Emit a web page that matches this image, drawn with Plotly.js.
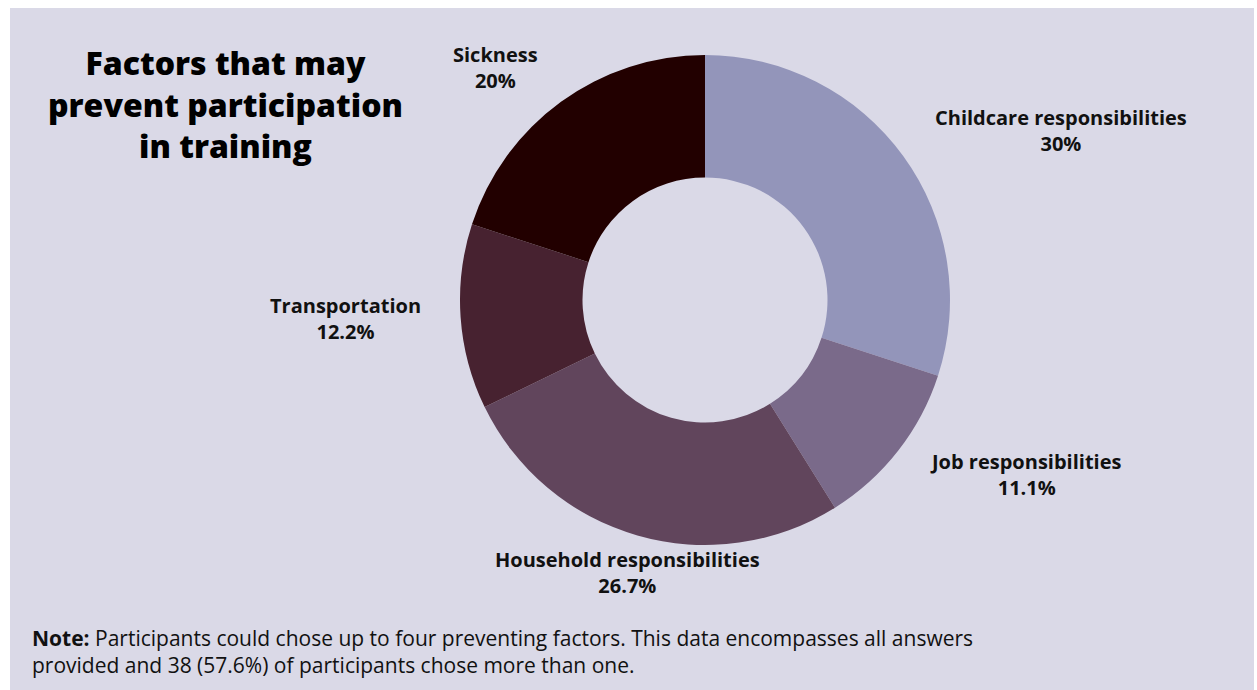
<!DOCTYPE html>
<html>
<head>
<meta charset="utf-8">
<script src="https://cdn.plot.ly/plotly-3.0.1.min.js"></script>
<style>
html,body{margin:0;padding:0;background:#ffffff;}
#chart{width:1257px;height:690px;}
</style>
</head>
<body>
<div id="chart"></div>
<script>
const categories = ["Childcare responsibilities", "Job responsibilities", "Household responsibilities", "Transportation", "Sickness"];
const values = [30, 11.1, 26.7, 12.2, 20];
const valueLabels = ["30%", "11.1%", "26.7%", "12.2%", "20%"];
const colors = ["#9395BA", "#7A6A8A", "#61455C", "#472230", "#220000"];
const titleLines = ["Factors that may", "prevent participation", "in training"];
const noteBold = "Note:";
const noteText = "Participants could chose up to four preventing factors. This data encompasses all answers<br>provided and 38 (57.6%) of participants chose more than one.";

const W = 1257, H = 690;
const px = x => x / W;
const py = y => 1 - y / H;

// label anchor positions (pixel centres)
const labelPos = [[1061, 131], [1025, 475], [627, 572], [345, 318], [496, 68]];

const cx = 705, cy = 300, R = 245;

const trace = {
  type: "pie",
  labels: categories,
  values: values,
  sort: false,
  direction: "clockwise",
  rotation: 0,
  hole: 0.5,
  textinfo: "none",
  hoverinfo: "label+percent",
  marker: {colors: colors, line: {width: 0}},
  domain: {x: [px(cx - R), px(cx + R)], y: [py(cy + R), py(cy - R)]},
  showlegend: false
};

const annotations = categories.map((c, i) => ({
  xref: "paper", yref: "paper",
  x: px(labelPos[i][0]), y: py(labelPos[i][1]),
  xanchor: "center", yanchor: "middle",
  text: c + "<br>" + valueLabels[i],
  showarrow: false,
  align: "center",
  font: {family: "'Open Sans', sans-serif", size: 20, color: "#111111", weight: 700}
}));

annotations.push({
  xref: "paper", yref: "paper",
  x: px(225), y: py(104),
  xanchor: "center", yanchor: "middle",
  text: titleLines.join("<br>"),
  showarrow: false,
  align: "center",
  font: {family: "'Open Sans', sans-serif", size: 32, color: "#000000", weight: 800}
});

annotations.push({
  xref: "paper", yref: "paper",
  x: px(30), y: py(651),
  xanchor: "left", yanchor: "middle",
  text: "<b>" + noteBold + "</b> " + noteText,
  showarrow: false,
  align: "left",
  font: {family: "'Open Sans', sans-serif", size: 21, color: "#111111"}
});

const layout = {
  width: W, height: H,
  margin: {l: 0, r: 0, t: 0, b: 0},
  paper_bgcolor: "#ffffff",
  plot_bgcolor: "rgba(0,0,0,0)",
  shapes: [{
    type: "rect", xref: "paper", yref: "paper", layer: "below",
    x0: px(10), x1: px(1254), y0: 0, y1: py(8),
    fillcolor: "#DAD9E7", line: {width: 0}
  }],
  annotations: annotations
};

Plotly.newPlot("chart", [trace], layout, {displayModeBar: false, staticPlot: false});
</script>
</body>
</html>
